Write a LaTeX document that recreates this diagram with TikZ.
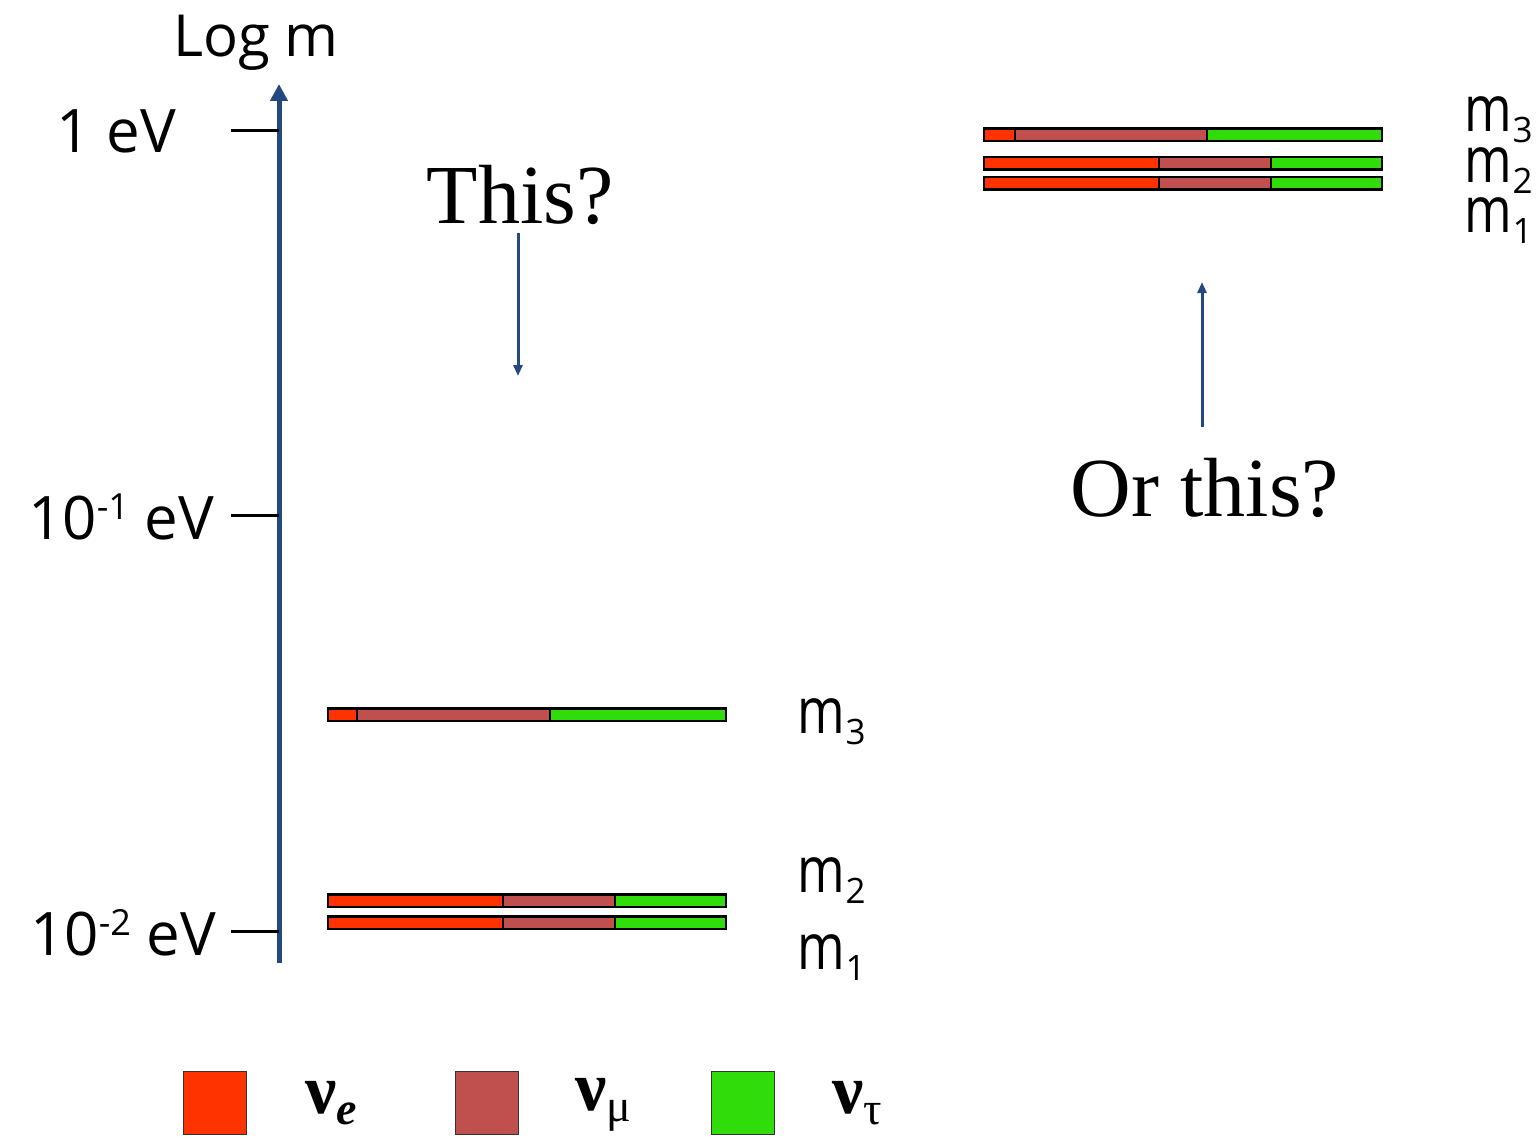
\documentclass[tikz,border=0pt]{standalone}
\usepackage{fontspec}
\setmainfont{Open Sans}
\newfontfamily\timesfont{Liberation Serif}
\usetikzlibrary{arrows.meta, positioning}
\definecolor{nuered}{RGB}{255,51,0}
\definecolor{numubrown}{RGB}{192,80,77}
\definecolor{nutaugreen}{RGB}{48,221,10}
\definecolor{axisblue}{RGB}{36,72,128}
\newcommand{\mass}[1]{\scalebox{0.8}[1]{m}\kern1pt\raisebox{-11pt}{\fontsize{35}{35}\selectfont #1}}
\newcommand{\tenpow}[1]{10\raisebox{20pt}{\fontsize{36}{36}\selectfont #1}}
\newcommand{\flav}[1]{{\timesfont\textbf{ν}\raisebox{-11pt}{\fontsize{46}{46}\selectfont #1}}}

\begin{document}
\begin{tikzpicture}[
    x=1pt, y=-1pt,
    every node/.style={inner sep=0pt, outer sep=0pt},
    axislabel/.style={font=\fontsize{60}{60}\selectfont, anchor=east},
    masslabel/.style={font=\fontsize{64}{64}\selectfont, anchor=base west},
    question/.style={font=\timesfont\fontsize{84}{84}\selectfont},
    seg/.style={rectangle, draw=black, line width=2.5pt, minimum height=12.5pt, anchor=west},
    legbox/.style={rectangle, draw=black!80, line width=1.5pt, minimum width=63pt, minimum height=63pt},
    leglabel/.style={font=\fontsize{70}{70}\selectfont},
    tick/.style={line width=3pt},
    arrow/.style={-{Triangle[length=11pt,width=9pt]}, line width=3pt, draw=axisblue}
]
\useasboundingbox (0,0) rectangle (1540,1142);

% Axis
\coordinate (axbot) at (279,963);
\coordinate (axtop) at (279,84);
\draw [line width=5pt, draw=axisblue, -{Triangle[length=17pt,width=17pt]}] (axbot) -- (axtop);
\node (logm) [font=\fontsize{58}{58}\selectfont] at (256,43) {Log m};

% Ticks
\coordinate (t0) at (231,131);
\coordinate (t1) at (231,515);
\coordinate (t2) at (231,931);
\draw [tick] (t0) -- (t0 -| axbot);
\draw [tick] (t1) -- (t1 -| axbot);
\draw [tick] (t2) -- (t2 -| axbot);
\node (ev0) [axislabel] at (176,131) {1 eV};
\node (ev1) [axislabel] at (214,517) {\tenpow{-1} eV};
\node (ev2) [axislabel] at (216,933) {\tenpow{-2} eV};

% Flavour bars: name / y / left / break 1 / break 2 / right
\foreach \nm/\y/\l/\a/\b/\r in {
    lm3/714.5/328/357/550/726, lm2/900.5/328/503/615/726, lm1/922.5/328/503/615/726,
    rm3/135/984/1015/1207/1382, rm2/163.5/984/1159/1271/1382, rm1/183.5/984/1159/1271/1382} {
  \pgfmathsetmacro{\we}{\a-\l}
  \pgfmathsetmacro{\wmu}{\b-\a}
  \pgfmathsetmacro{\wtau}{\r-\b}
  \node (\nm-e) [seg, fill=nuered, minimum width=\we pt] at (\l,\y) {};
  \node (\nm-mu) [seg, fill=numubrown, minimum width=\wmu pt] at (\a,\y) {};
  \node (\nm-tau) [seg, fill=nutaugreen, minimum width=\wtau pt] at (\b,\y) {};
}

% Mass labels
\node (lbl-lm3) [masslabel] at (797,733) {\mass{3}};
\node (lbl-lm2) [masslabel] at (797,892) {\mass{2}};
\node (lbl-lm1) [masslabel] at (797,969) {\mass{1}};
\node (lbl-rm3) [masslabel] at (1464,132) {\mass{3}};
\node (lbl-rm2) [masslabel] at (1464,183) {\mass{2}};
\node (lbl-rm1) [masslabel] at (1464,233) {\mass{1}};

% Questions
\node (this) [question] at (520,195) {This?};
\coordinate (thisend) at (518,376);
\draw [arrow] (this.south -| thisend) ++(0,8) -- (thisend);
\node (orthis) [question] at (1205,488) {Or this?};
\coordinate (orthisend) at (1202,282);
\draw [arrow] (orthis.north -| orthisend) ++(0,-31) -- (orthisend);

% Legend
\node (leg-e) [legbox, fill=nuered] at (215,1103) {};
\node (leg-mu) [legbox, fill=numubrown] at (487,1103) {};
\node (leg-tau) [legbox, fill=nutaugreen] at (743,1103) {};
\node (lab-e) [leglabel] at (331,1103) {\flav{\textbf{\textit{e}}}};
\node (lab-mu) [leglabel] at (603,1105) {\flav{μ}};
\node (lab-tau) [leglabel] at (857,1103) {\flav{τ}};

\end{tikzpicture}
\end{document}
